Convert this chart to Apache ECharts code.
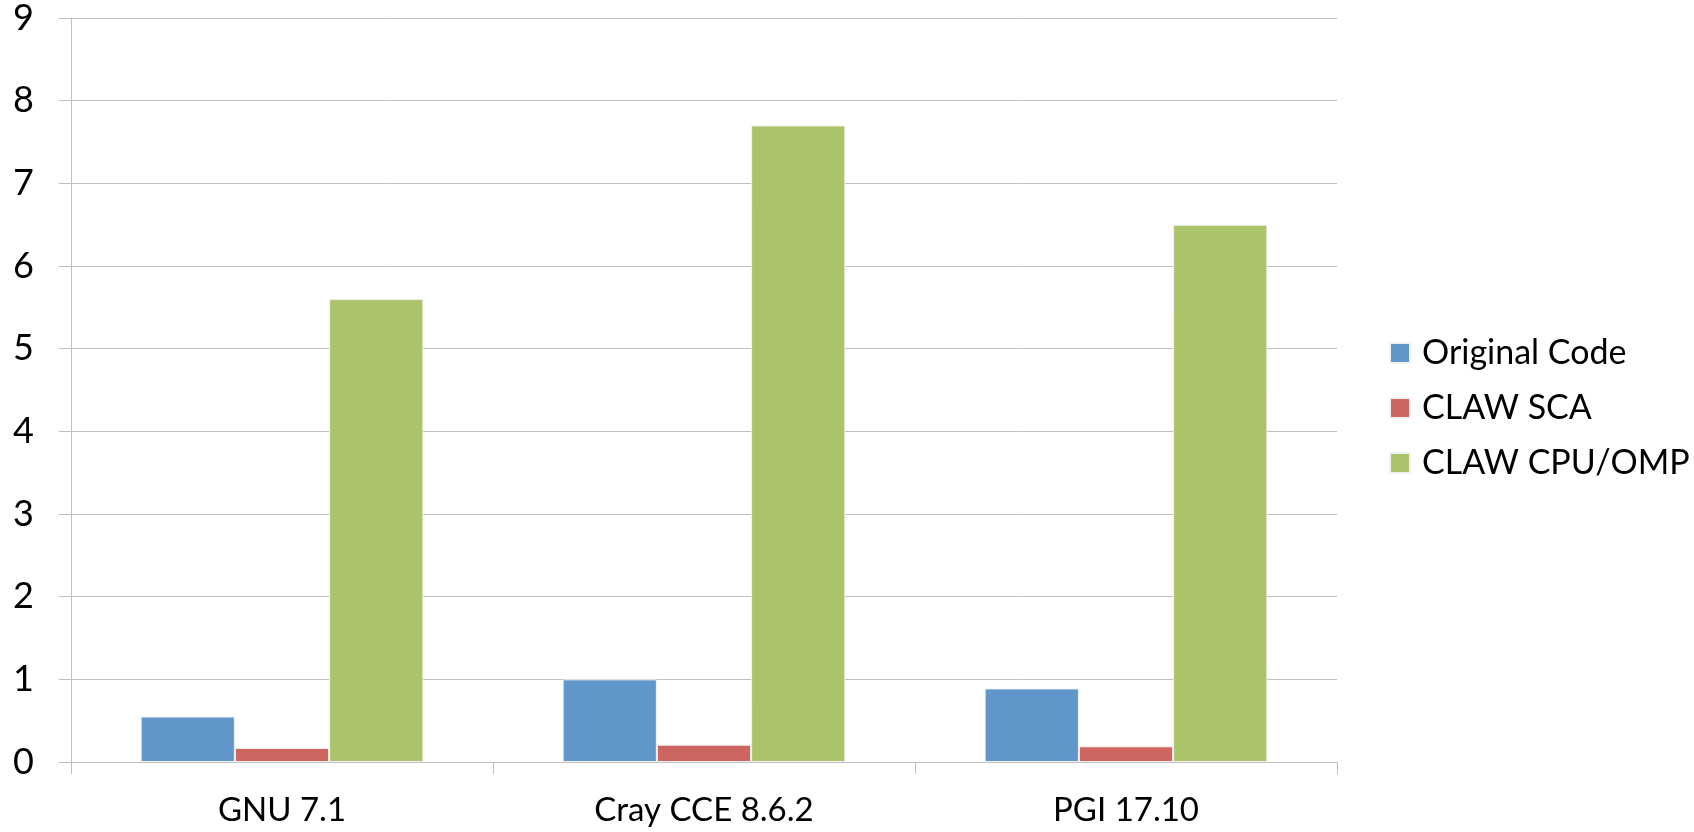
<!DOCTYPE html>
<html>
<head>
<meta charset="utf-8">
<script src="https://cdn.jsdelivr.net/npm/echarts@6/dist/echarts.min.js"></script>
<style>html,body{margin:0;padding:0;background:#fff;}#c{width:1694px;height:832px;}</style>
</head>
<body>
<div id="c"></div>
<script>
const categories = ['GNU 7.1', 'Cray CCE 8.6.2', 'PGI 17.10'];
const seriesNames = ['Original Code', 'CLAW SCA', 'CLAW CPU/OMP'];
const originalCode = [0.55, 1.0, 0.89];
const clawSca = [0.17, 0.21, 0.19];
const clawCpuOmp = [5.6, 7.7, 6.5];
const colors = ['#6096CA', '#CD6560', '#ABC46C'];
const FONT = 'Lato, "Open Sans", sans-serif';

const chart = echarts.init(document.getElementById('c'));
const dataSets = [originalCode, clawSca, clawCpuOmp];
chart.setOption({
  animation: false,
  grid: { left: 71, right: 357, top: 18, bottom: 70 },
  legend: {
    orient: 'vertical',
    left: 1384,
    top: 331,
    itemWidth: 20,
    itemHeight: 20,
    itemGap: 21,
    icon: 'rect',
    textStyle: { fontFamily: FONT, fontSize: 34, color: '#000', padding: [0, 0, 0, 7] },
    data: seriesNames
  },
  xAxis: {
    type: 'category',
    data: categories,
    axisLine: { lineStyle: { color: '#BFBFBF', width: 1 } },
    axisTick: { show: true, length: 12, lineStyle: { color: '#BFBFBF' } },
    axisLabel: { fontFamily: FONT, fontSize: 33, color: '#000', margin: 32 }
  },
  yAxis: {
    type: 'value',
    min: 0,
    max: 9,
    interval: 1,
    axisLine: { show: true, lineStyle: { color: '#BFBFBF', width: 1 } },
    axisTick: { show: true, length: 12, lineStyle: { color: '#BFBFBF' } },
    splitLine: { lineStyle: { color: '#BFBFBF', width: 1 } },
    axisLabel: { fontFamily: FONT, fontSize: 36, color: '#000', margin: 37 }
  },
  series: seriesNames.map((n, i) => ({
    name: n,
    type: 'bar',
    data: dataSets[i],
    barGap: '0%',
    barCategoryGap: '33%',
    itemStyle: { color: colors[i], borderColor: '#F2F2F2', borderWidth: 1 }
  }))
});
</script>
</body>
</html>
